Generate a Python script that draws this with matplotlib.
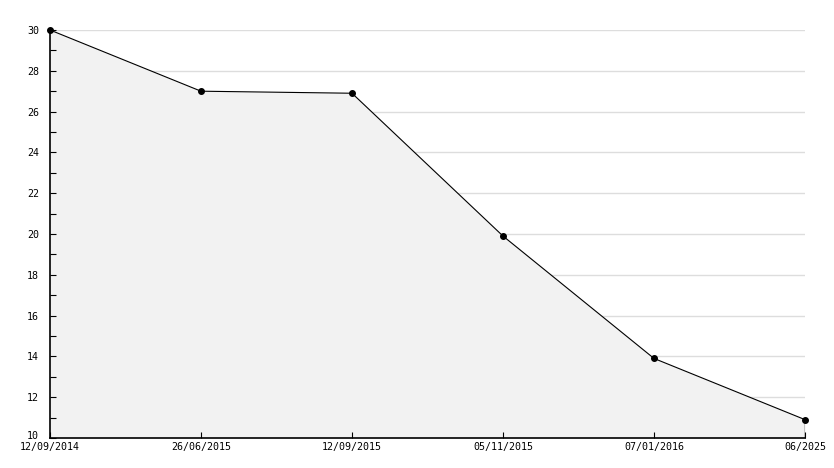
import matplotlib
matplotlib.use("Agg")
import matplotlib.pyplot as plt
import matplotlib.transforms as mtransforms
from matplotlib.ticker import MultipleLocator

dates = ["12/09/2014", "26/06/2015", "12/09/2015", "05/11/2015", "07/01/2016", "06/2025"]
values = [30, 27.0, 26.9, 19.9, 13.9, 10.9]
y_ticks = [10, 12, 14, 16, 18, 20, 22, 24, 26, 28, 30]

plt.rcParams['font.family'] = ['DejaVu Sans Mono']

fig = plt.figure(figsize=(8.34, 4.68), dpi=100)
ax = fig.add_axes([50 / 834, 1 - 438 / 468, 755 / 834, 408 / 468])

x = list(range(len(dates)))

# grid below the fill, ticks above it
for t in y_ticks[1:]:
    ax.axhline(t, color='#dddddd', linewidth=1, zorder=0.5)
ax.fill_between(x, values, 10, color='#f2f2f2', linewidth=0, zorder=1)
ax.plot(x, values, color='black', linewidth=0.8, marker='o', markersize=4, zorder=3,
        clip_on=False)
ax.vlines(x[-1], 10, values[-1], color='black', linewidth=1, zorder=3)

ax.set_xlim(0, len(dates) - 1)
ax.set_ylim(10, 30)
ax.set_yticks(y_ticks)
ax.yaxis.set_minor_locator(MultipleLocator(1))
ax.set_xticks(x)
ax.set_xticklabels(dates)

for side in ['top', 'right']:
    ax.spines[side].set_visible(False)
for side in ['left', 'bottom']:
    ax.spines[side].set_linewidth(1.2)

ax.tick_params(axis='both', which='major', direction='in', length=4, width=0.8, labelsize=7.2, colors='black')
ax.tick_params(axis='y', which='minor', direction='in', length=4, width=0.8)
ax.tick_params(axis='x', pad=3)
ax.tick_params(axis='y', pad=8)

# nudge the bottom "10" label up so it clears the first date
lbl = ax.get_yticklabels()[0]
lbl.set_transform(lbl.get_transform() + mtransforms.ScaledTranslation(0, 3 / 100, fig.dpi_scale_trans))

fig.savefig("out.png", dpi=100, facecolor='white')
